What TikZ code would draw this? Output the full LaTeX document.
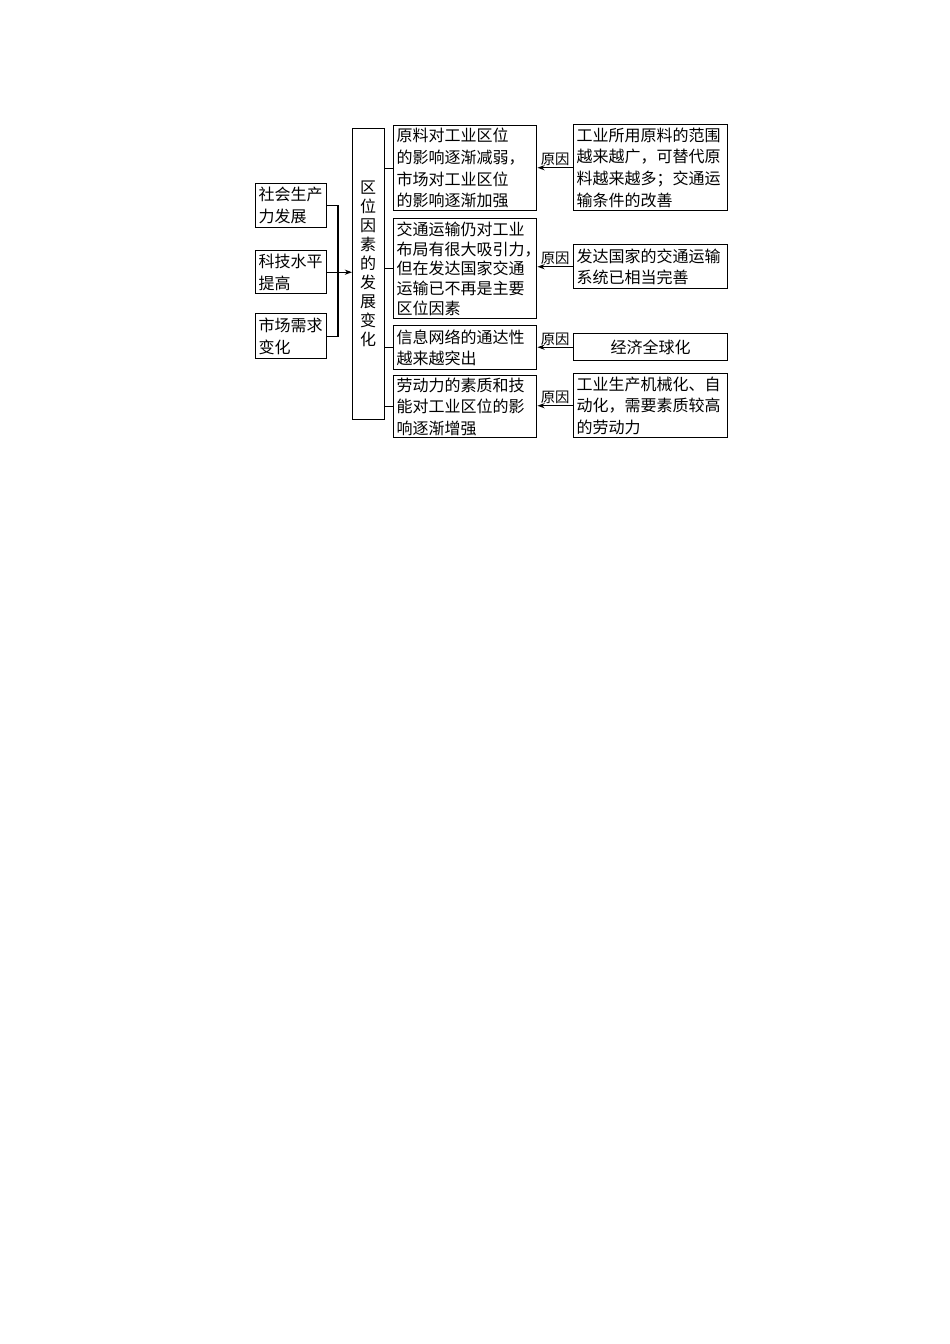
\documentclass[tikz,border=0pt]{standalone}
\usepackage{fontspec}
\newfontfamily\cjk{Noto Sans CJK SC}
\usetikzlibrary{arrows.meta}
\newlength\upx \setlength\upx{0.625pt}
\begin{document}
\begin{tikzpicture}[x=\upx,y=-\upx,
  box/.style={draw,line width=0.9pt,font=\cjk\fontsize{10}{13.5}\selectfont,
    inner xsep=3\upx,inner ysep=0pt,align=left,anchor=north west},
  conn/.style={line width=0.7pt},
  arr/.style={conn,-{Stealth[length=4.5pt,width=3.2pt]}},
  why/.style={font=\cjk\fontsize{9}{10}\selectfont,inner sep=0.8pt,above}]
\useasboundingbox[fill=white] (0,0) rectangle (950,1344);
% left boxes
\node[box,text width=65\upx,minimum height=44\upx] (L1) at (255,183) {社会生产\\力发展};
\node[box,text width=65\upx,minimum height=43\upx] (L2) at (255,250) {科技水平\\提高};
\node[box,text width=65\upx,minimum height=45\upx] (L3) at (255,313) {市场需求\\变化};
% central box
\node[draw,line width=0.9pt,anchor=north west,minimum width=32\upx,minimum height=291\upx,inner sep=0pt] (C) at (352,128) {};
\node[font=\cjk\fontsize{10}{11.875}\selectfont,align=center,inner sep=0pt] (Ct) at (368,264) {区\\位\\因\\素\\的\\发\\展\\变\\化};
% middle boxes
\node[box,text width=137\upx,minimum height=85\upx] (M1) at (393,125) {原料对工业区位\\的影响逐渐减弱，\\市场对工业区位\\的影响逐渐加强};
\node[box,text width=137\upx,minimum height=100\upx,font=\cjk\fontsize{10}{12.3}\selectfont] (M2) at (393,218) {交通运输仍对工业\\布局有很大吸引力，\\但在发达国家交通\\运输已不再是主要\\区位因素};
\node[box,text width=137\upx,minimum height=44\upx] (M3) at (393,325) {信息网络的通达性\\越来越突出};
\node[box,text width=137\upx,minimum height=62\upx] (M4) at (393,375) {劳动力的素质和技\\能对工业区位的影\\响逐渐增强};
% right boxes
\node[box,text width=148\upx,minimum height=86\upx] (R1) at (573,124) {工业所用原料的范围\\越来越广，可替代原\\料越来越多；交通运\\输条件的改善};
\node[box,text width=148\upx,minimum height=44\upx] (R2) at (573,244) {发达国家的交通运输\\系统已相当完善};
\node[box,text width=148\upx,minimum height=27\upx,align=center] (R3) at (573,333) {经济全球化};
\node[box,text width=148\upx,minimum height=64\upx] (R4) at (573,373) {工业生产机械化、自\\动化，需要素质较高\\的劳动力};
% left connectors
\coordinate (J) at (338,271.5);
\draw[conn] (L1.east) -| (J);
\draw[conn] (L3.east) -| (J);
\draw[arr] (L2.east) -- (C.west |- L2.east);
% central to middle
\draw[conn] (C.east |- M1.west) -- (M1.west);
\draw[conn] (C.east |- M2.west) -- (M2.west);
\draw[conn] (C.east |- M3.west) -- (M3.west);
\draw[conn] (C.east |- M4.west) -- (M4.west);
% right to middle
\draw[arr] (R1.west) -- (M1.east |- R1.west) node[midway,why] {原因};
\draw[arr] (R2.west) -- (M2.east |- R2.west) node[midway,why] {原因};
\draw[arr] (R3.west) -- (M3.east |- R3.west) node[midway,why] {原因};
\draw[arr] (R4.west) -- (M4.east |- R4.west) node[midway,why] {原因};
\end{tikzpicture}
\end{document}
